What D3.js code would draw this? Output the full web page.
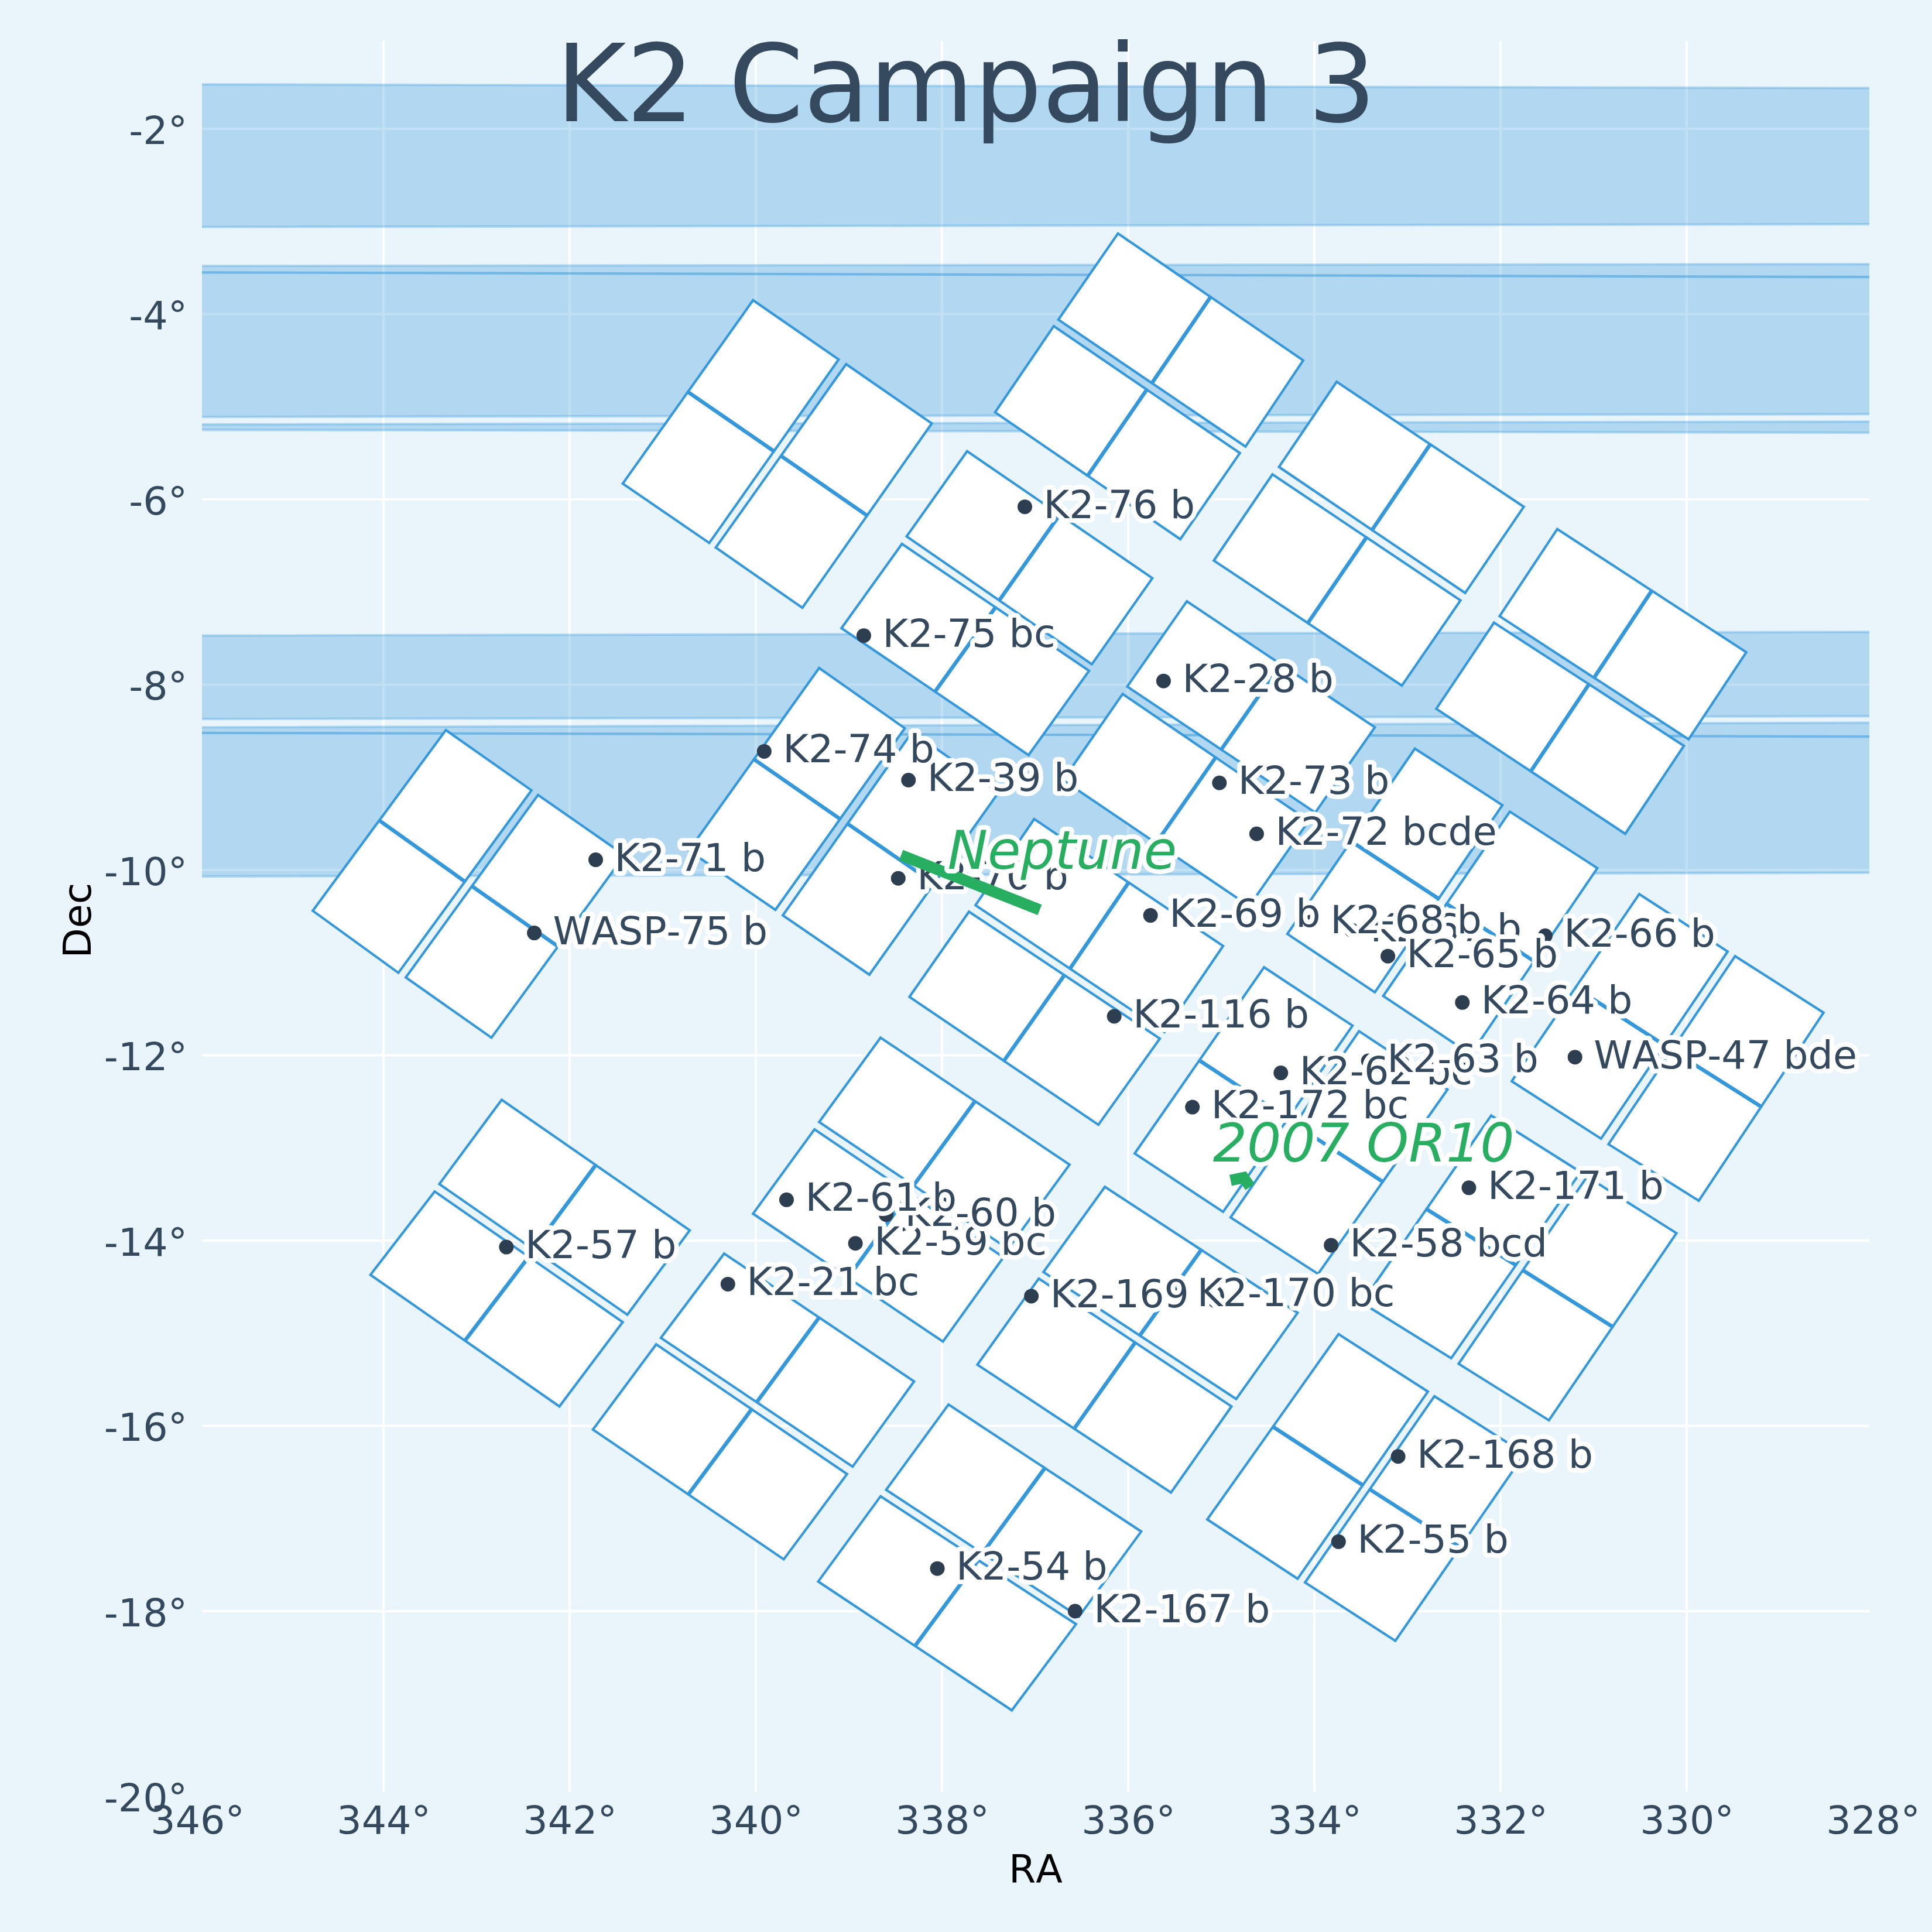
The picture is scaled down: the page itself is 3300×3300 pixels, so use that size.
<!DOCTYPE html>
<html>
<head>
<meta charset="utf-8">
<script src="https://d3js.org/d3.v7.min.js"></script>
<style>
html, body { margin: 0; padding: 0; background: #e9f4fb; }
text { font-family: "DejaVu Sans", sans-serif; font-kerning: none; }
</style>
</head>
<body>
<div class="canvas"></div>
<script>
// tick values
var raTicks = [346, 344, 342, 340, 338, 336, 334, 332, 330, 328];
var decTicks = [-2, -4, -6, -8, -10, -12, -14, -16, -18, -20];
var raGrid = [344, 342, 340, 338, 336, 334, 332, 330];
var decGrid = [-2, -4, -6, -8, -10, -12, -14, -16, -18];

// the wide strips: dec of top and bottom edge, at ra 346 and at ra 328
var stripTopLeft = [-1.52, -3.48, -3.55, -5.19, -7.47, -8.46, -8.52];
var stripTopRight = [-1.56, -3.46, -3.60, -5.16, -7.43, -8.41, -8.56];
var stripBottomLeft = [-3.06, -3.55, -5.11, -5.25, -8.37, -8.52, -10.07];
var stripBottomRight = [-3.03, -3.60, -5.08, -5.28, -8.34, -8.56, -10.03];

// ccd corners [ra, dec]
var ccds = [
	[[340.03, -3.85], [339.11, -4.49], [340.50, -6.47], [341.43, -5.83]],
	[[339.03, -4.54], [338.11, -5.18], [339.50, -7.17], [340.43, -6.52]],
	[[336.11, -3.13], [334.12, -4.50], [334.74, -5.43], [336.75, -4.06]],
	[[336.80, -4.13], [334.80, -5.50], [335.44, -6.43], [337.43, -5.06]],
	[[333.76, -4.73], [331.75, -6.08], [332.38, -7.01], [334.38, -5.65]],
	[[334.45, -5.73], [332.43, -7.09], [333.06, -8.01], [335.08, -6.66]],
	[[331.39, -6.32], [329.36, -7.65], [329.98, -8.59], [332.01, -7.26]],
	[[332.07, -7.33], [330.03, -8.66], [330.66, -9.61], [332.69, -8.26]],
	[[337.73, -5.48], [335.74, -6.85], [336.39, -7.78], [338.38, -6.40]],
	[[338.43, -6.48], [336.42, -7.85], [337.07, -8.76], [339.08, -7.39]],
	[[335.37, -7.10], [333.35, -8.46], [333.99, -9.38], [336.01, -8.02]],
	[[336.06, -8.10], [334.06, -9.47], [334.70, -10.39], [336.70, -9.03]],
	[[332.92, -8.69], [331.98, -9.30], [333.35, -11.32], [334.29, -10.69]],
	[[331.90, -9.37], [330.96, -9.98], [332.32, -11.99], [333.26, -11.36]],
	[[330.51, -10.26], [329.56, -10.88], [330.92, -12.90], [331.88, -12.28]],
	[[329.48, -10.93], [328.53, -11.54], [329.87, -13.57], [330.84, -12.96]],
	[[343.33, -8.49], [342.41, -9.14], [343.84, -11.11], [344.76, -10.44]],
	[[342.34, -9.19], [341.41, -9.84], [342.84, -11.81], [343.76, -11.16]],
	[[339.32, -7.82], [338.40, -8.47], [339.79, -10.43], [340.72, -9.79]],
	[[338.32, -8.51], [337.39, -9.16], [338.78, -11.13], [339.71, -10.49]],
	[[337.01, -9.45], [334.98, -10.82], [335.61, -11.75], [337.64, -10.38]],
	[[337.71, -10.45], [335.66, -11.82], [336.32, -12.75], [338.35, -11.37]],
	[[334.54, -11.05], [333.59, -11.68], [334.98, -13.69], [335.93, -13.06]],
	[[333.52, -11.74], [332.57, -12.37], [333.96, -14.36], [334.90, -13.75]],
	[[332.10, -12.65], [331.14, -13.26], [332.53, -15.27], [333.49, -14.67]],
	[[331.07, -13.31], [330.11, -13.92], [331.48, -15.94], [332.45, -15.33]],
	[[342.73, -12.48], [340.71, -13.89], [341.38, -14.80], [343.40, -13.39]],
	[[343.45, -13.47], [341.43, -14.88], [342.11, -15.79], [344.14, -14.37]],
	[[338.66, -11.81], [336.63, -13.18], [337.29, -14.09], [339.32, -12.72]],
	[[339.37, -12.80], [337.34, -14.18], [337.99, -15.09], [340.03, -13.71]],
	[[336.25, -13.42], [334.18, -14.78], [334.84, -15.71], [336.91, -14.34]],
	[[336.96, -14.41], [334.89, -15.79], [335.54, -16.72], [337.62, -15.34]],
	[[333.74, -15.01], [332.78, -15.63], [334.18, -17.65], [335.15, -17.01]],
	[[332.71, -15.68], [331.74, -16.30], [333.13, -18.32], [334.10, -17.69]],
	[[340.34, -14.14], [338.30, -15.52], [338.96, -16.44], [341.02, -15.05]],
	[[341.07, -15.12], [339.02, -16.52], [339.70, -17.44], [341.75, -16.04]],
	[[337.93, -15.77], [335.86, -17.14], [336.53, -18.06], [338.60, -16.69]],
	[[338.66, -16.76], [336.56, -18.14], [337.25, -19.07], [339.33, -17.68]]
];

// planets, later names are drawn over earlier ones
var planetNames = ["K2-21 bc", "K2-28 b", "K2-39 b", "K2-54 b", "K2-55 b", "K2-57 b", "K2-58 bcd", "K2-59 bc", "K2-60 b", "K2-61 b", "K2-62 bc", "K2-63 b", "K2-64 b", "K2-66 b", "K2-67 b", "K2-65 b", "K2-68 b", "K2-69 b", "K2-70 b", "K2-71 b", "K2-72 bcde", "K2-73 b", "K2-74 b", "K2-75 bc", "K2-76 b", "K2-116 b", "K2-167 b", "K2-168 b", "K2-169 b", "K2-170 bc", "K2-171 b", "K2-172 bc", "WASP-47 bde", "WASP-75 b"];
var planetRa = [340.30, 335.62, 338.36, 338.05, 333.74, 342.68, 333.82, 338.93, 338.60, 339.67, 334.36, 333.42, 332.41, 331.52, 333.60, 333.21, 334.03, 335.76, 338.47, 341.72, 334.62, 335.02, 339.91, 338.84, 337.11, 336.15, 336.57, 333.10, 337.04, 335.46, 332.34, 335.31, 331.20, 342.38];
var planetDec = [-14.47, -7.96, -9.03, -17.54, -17.25, -14.07, -14.05, -14.03, -13.72, -13.56, -12.19, -12.06, -11.43, -10.71, -10.65, -10.93, -10.56, -10.49, -10.09, -9.89, -9.61, -9.06, -8.72, -7.47, -6.08, -11.58, -18.00, -16.33, -14.60, -14.59, -13.43, -12.56, -12.02, -10.68];

// moving objects
var neptuneTrack = [[338.44, -9.84], [336.95, -10.43]];
var neptuneLabel = [337.94, -9.99];
var orTrack = [[334.90, -13.35], [334.76, -13.32], [334.69, -13.42]];
var orLabel = [335.09, -13.15];

var width = 3300, height = 3300;
var blue = '#3498db', green = '#27ae60', slate = '#34495e', dark = '#2c3e50';

var svg = d3.select('.canvas').append('svg')
	.attr('width', width)
	.attr('height', height)
	.style('display', 'block');

svg.append('rect').attr('width', width).attr('height', height).attr('fill', '#e9f4fb');

// plot box
var left = 345, right = 3193, top_ = 70, bottom = 3061;

var x = d3.scaleLinear().domain([346, 328]).range([337, 3199]);
var y = d3.scaleLinear().domain([-2, -20]).range([220, 3068.5]);

svg.append('clipPath').attr('id', 'box').append('rect')
	.attr('x', left).attr('y', top_)
	.attr('width', right - left).attr('height', bottom - top_);

// grid
var grid = svg.append('g').attr('stroke', '#fff').attr('stroke-width', 4.2);
grid.selectAll('.v').data(raGrid).enter().append('line')
	.attr('x1', d => x(d)).attr('x2', d => x(d))
	.attr('y1', top_).attr('y2', bottom);
grid.selectAll('.h').data(decGrid).enter().append('line')
	.attr('x1', left).attr('x2', right)
	.attr('y1', d => y(d)).attr('y2', d => y(d));

// strips
var line = d3.line().x(d => x(d[0])).y(d => y(d[1]));
svg.append('g').attr('clip-path', 'url(#box)')
	.selectAll('path')
	.data(d3.range(stripTopLeft.length))
	.enter().append('path')
	.attr('d', i => line([
		[346, stripTopLeft[i]], [328, stripTopRight[i]],
		[328, stripBottomRight[i]], [346, stripBottomLeft[i]]
	]) + 'Z')
	.attr('fill', blue).attr('fill-opacity', 0.3)
	.attr('stroke', blue).attr('stroke-opacity', 0.3).attr('stroke-width', 4.2);

// each ccd is cut in two channels across its long side, they sit a hair apart
function channels(c) {
	var p = c.map(d => [x(d[0]), y(d[1])]);
	var a = Math.hypot(p[1][0] - p[0][0], p[1][1] - p[0][1]);
	var b = Math.hypot(p[3][0] - p[0][0], p[3][1] - p[0][1]);
	var q = a > b ? p : [p[3], p[0], p[1], p[2]];
	var along = (u, v, t) => [u[0] + (v[0] - u[0]) * t, u[1] + (v[1] - u[1]) * t];
	return [
		[q[0], along(q[0], q[1], 0.497), along(q[3], q[2], 0.497), q[3]],
		[along(q[0], q[1], 0.503), q[1], q[2], along(q[3], q[2], 0.503)]
	];
}

svg.append('g').selectAll('polygon')
	.data(ccds.flatMap(channels))
	.enter().append('polygon')
	.attr('points', d => d.join(' '))
	.attr('fill', '#fff')
	.attr('stroke', blue)
	.attr('stroke-width', 4.2);

// dots first, all names go on top
svg.append('g').selectAll('circle')
	.data(planetNames)
	.enter().append('circle')
	.attr('cx', (d, i) => x(planetRa[i]))
	.attr('cy', (d, i) => y(planetDec[i]))
	.attr('r', 12.5)
	.attr('fill', dark);

function halo(sel) {
	sel.attr('stroke', '#fff')
		.attr('stroke-width', 16)
		.attr('stroke-linejoin', 'round')
		.style('paint-order', 'stroke');
}

svg.append('g').selectAll('text')
	.data(planetNames)
	.enter().append('text')
	.attr('x', (d, i) => x(planetRa[i]) + 32)
	.attr('y', (d, i) => y(planetDec[i]) + 19)
	.attr('font-size', 66.67)
	.attr('fill', slate)
	.text(d => d)
	.call(halo);

// tracks lie over the planet names
svg.append('path').attr('d', line(neptuneTrack))
	.attr('fill', 'none').attr('stroke', green).attr('stroke-width', 19);
svg.append('path').attr('d', line(orTrack))
	.attr('fill', 'none').attr('stroke', green).attr('stroke-width', 19);

svg.append('text')
	.attr('x', x(neptuneLabel[0])).attr('y', y(neptuneLabel[1]))
	.attr('font-size', 91.67).attr('font-style', 'italic')
	.attr('fill', green).text('Neptune').call(halo);
svg.append('text')
	.attr('x', x(orLabel[0])).attr('y', y(orLabel[1]))
	.attr('font-size', 91.67).attr('font-style', 'italic')
	.attr('fill', green).text('2007 OR10').call(halo);

// axes
var xAxis = d3.axisBottom(x).tickValues(raTicks).tickSize(0).tickFormat(d => d + '°');
var yAxis = d3.axisLeft(y).tickValues(decTicks).tickSize(0).tickFormat(d => d + '°');

var gx = svg.append('g').attr('transform', 'translate(0,' + bottom + ')').call(xAxis);
var gy = svg.append('g').attr('transform', 'translate(' + left + ',0)').call(yAxis);
gx.select('.domain').remove();
gy.select('.domain').remove();
gx.selectAll('text').attr('y', 70.6).attr('dy', 0);
gy.selectAll('text').attr('x', -25).attr('dy', 25);
[gx, gy].forEach(function (g) {
	g.selectAll('text')
		.attr('font-size', 66.67)
		.attr('font-family', '"DejaVu Sans", sans-serif')
		.attr('fill', slate);
});

svg.append('text')
	.attr('x', (left + right) / 2).attr('y', 3215)
	.attr('text-anchor', 'middle').attr('font-size', 66.67).attr('fill', '#000')
	.text('RA');
svg.append('text')
	.attr('transform', 'translate(155,1572) rotate(-90)')
	.attr('text-anchor', 'middle').attr('font-size', 66.67).attr('fill', '#000')
	.text('Dec');

svg.append('text')
	.attr('x', 1650).attr('y', 207)
	.attr('text-anchor', 'middle').attr('font-size', 183.33).attr('fill', slate)
	.text('K2 Campaign 3');
</script>
</body>
</html>
